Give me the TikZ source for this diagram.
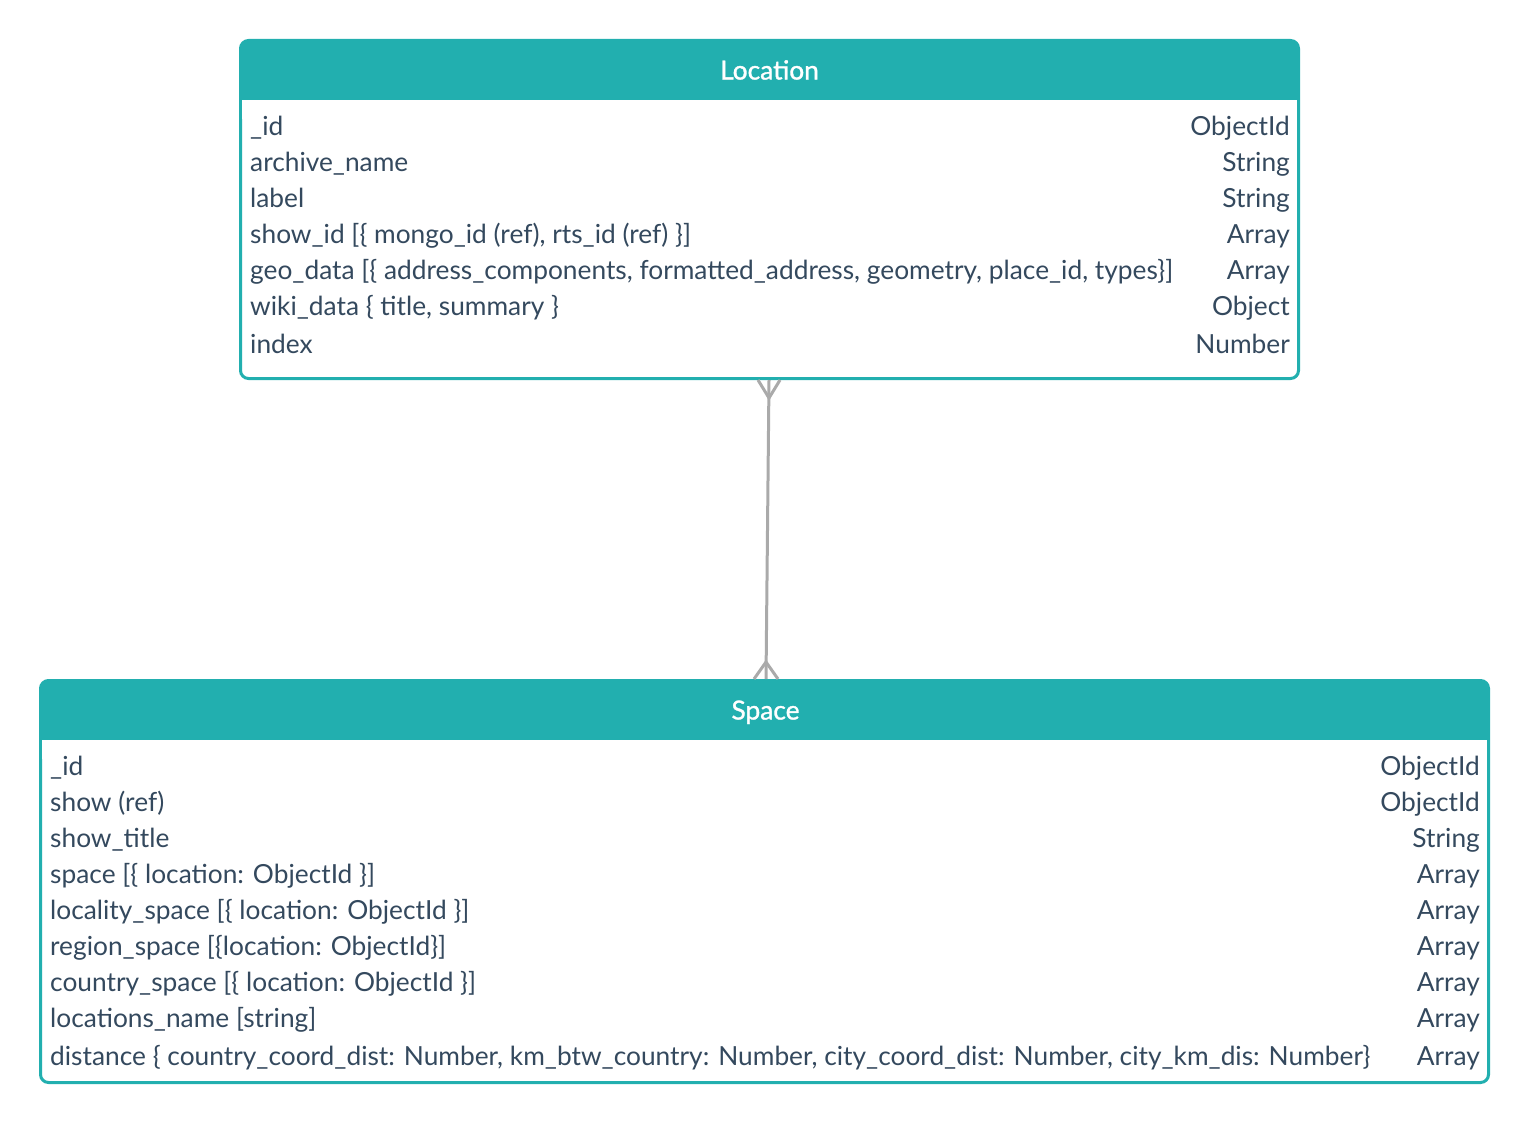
\documentclass[tikz,border=0pt]{standalone}
\usepackage{fontspec}
\setmainfont{Lato}
\newfontfamily\headfont{Lato}[FakeBold=1.2]
\usetikzlibrary{calc}
\definecolor{headteal}{HTML}{22AFAF}
\definecolor{rowtext}{HTML}{34495E}
\definecolor{linkgray}{HTML}{AAAAAA}
\begin{document}
\begin{tikzpicture}[x=1pt,y=-1pt,
    entity/.style={draw=headteal,fill=white,line width=3pt,rounded corners=8pt,inner sep=0pt,outer sep=0pt,anchor=north west},
    title/.style={text=white,font=\headfont\fontsize{26.3}{30}\selectfont,inner sep=0pt,anchor=base},
    field/.style={text=rowtext,font=\fontsize{26.3}{30}\selectfont,inner sep=0pt},
    link/.style={draw=linkgray,line width=3pt}
  ]
  \useasboundingbox (0,0) rectangle (1530,1124);

  % Location entity
  \node[entity,minimum width=1058pt,minimum height=338pt] (loc) at (240.5,40.5) {};
  \fill[headteal,rounded corners=8pt] (loc.north west) rectangle ($(loc.north east)+(0,75)$);
  \fill[white] ($(loc.north west)+(1.5,59.5)$) rectangle ($(loc.north east)+(-1.5,78)$);
  \node[title] (loctitle) at (769.5,79.5) {Location};
  \foreach \y/\name/\kind [count=\i] in {
      135.5/\_id/ObjectId,
      171.5/archive\_name/String,
      207.5/label/String,
      243.5/{show\_id [\{ mongo\_id (ref), rts\_id (ref) \}]}/Array,
      279.5/{geo\_data [\{ address\_components, formatted\_address, geometry, place\_id, types\}]}/Array,
      315.5/{wiki\_data \{ title, summary \}}/Object,
      353.5/index/Number} {
    \node[field,anchor=base west] (locname\i) at (250,\y) {\name};
    \node[field,anchor=base east] (loctype\i) at (1290,\y) {\kind};
  }

  % Space entity
  \node[entity,minimum width=1448pt,minimum height=402pt] (space) at (40.5,680.5) {};
  \fill[headteal,rounded corners=8pt] (space.north west) rectangle ($(space.north east)+(0,75)$);
  \fill[white] ($(space.north west)+(1.5,59.5)$) rectangle ($(space.north east)+(-1.5,78)$);
  \node[title] (spacetitle) at (765.5,719.5) {Space};
  \foreach \y/\name/\kind [count=\i] in {
      775.5/\_id/ObjectId,
      811.5/show (ref)/ObjectId,
      847.5/show\_title/String,
      883.5/{space [\{ location: ObjectId \}]}/Array,
      919.5/{locality\_space [\{ location: ObjectId \}]}/Array,
      955.5/{region\_space [\{location: ObjectId\}]}/Array,
      991.5/{country\_space [\{ location: ObjectId \}]}/Array,
      1027.5/{locations\_name [string]}/Array,
      1065.5/{distance \{ country\_coord\_dist: Number, km\_btw\_country: Number, city\_coord\_dist: Number, city\_km\_dis: Number\}}/Array} {
    \node[field,anchor=base west] (spacename\i) at (50,\y) {\name};
    \node[field,anchor=base east] (spacetype\i) at (1480,\y) {\kind};
  }

  % one to many link
  \coordinate (locend) at ($(loc.south)+(-0.5,1.5)$);
  \coordinate (spaceend) at ($(space.north)+(1.5,-1.5)$);
  \coordinate (locfork) at ($(locend)+(0,18)$);
  \coordinate (spacefork) at ($(spaceend)+(0,-17)$);
  \draw[link] (locend) -- (spaceend);
  \draw[link] ($(locend)+(-11,0)$) -- (locfork) -- ($(locend)+(11,0)$);
  \draw[link] ($(spaceend)+(-12,0)$) -- (spacefork) -- ($(spaceend)+(12,0)$);
\end{tikzpicture}
\end{document}
